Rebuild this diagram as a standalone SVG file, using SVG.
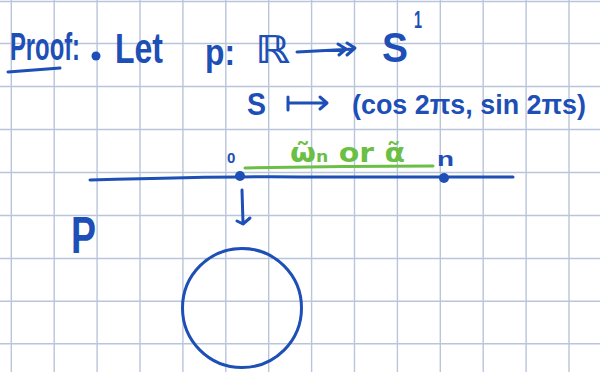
<svg xmlns="http://www.w3.org/2000/svg" width="600" height="372" viewBox="0 0 600 372">
<defs>
<style>
.grid line{stroke:#b8c5db;stroke-width:1.4}
.ink{fill:#1d4fb6;font-family:"Liberation Sans","DejaVu Sans",sans-serif;font-weight:bold}
.sym{fill:#1d4fb6;font-family:"DejaVu Sans",sans-serif;font-weight:bold}
.grn{fill:#6cbf45;font-family:"DejaVu Sans",sans-serif;font-weight:bold}
.stroke{stroke:#1d4fb6;stroke-width:3;fill:none;stroke-linecap:round;stroke-linejoin:round}
.gstroke{stroke:#6cbf45;stroke-width:3;fill:none;stroke-linecap:round}
.dot{fill:#1d4fb6}
</style>
</defs>
<rect width="600" height="372" fill="#ffffff"/>
<g class="grid">
<line x1="11.3" y1="0" x2="11.3" y2="372"/>
<line x1="54.2" y1="0" x2="54.2" y2="372"/>
<line x1="97.1" y1="0" x2="97.1" y2="372"/>
<line x1="140" y1="0" x2="140" y2="372"/>
<line x1="182.9" y1="0" x2="182.9" y2="372"/>
<line x1="225.8" y1="0" x2="225.8" y2="372"/>
<line x1="268.7" y1="0" x2="268.7" y2="372"/>
<line x1="311.6" y1="0" x2="311.6" y2="372"/>
<line x1="354.5" y1="0" x2="354.5" y2="372"/>
<line x1="397.4" y1="0" x2="397.4" y2="372"/>
<line x1="440.3" y1="0" x2="440.3" y2="372"/>
<line x1="483.2" y1="0" x2="483.2" y2="372"/>
<line x1="526.1" y1="0" x2="526.1" y2="372"/>
<line x1="569" y1="0" x2="569" y2="372"/>
<line x1="0" y1="1.5" x2="600" y2="1.5"/>
<line x1="0" y1="43.5" x2="600" y2="43.5"/>
<line x1="0" y1="86.5" x2="600" y2="86.5"/>
<line x1="0" y1="129.5" x2="600" y2="129.5"/>
<line x1="0" y1="172.5" x2="600" y2="172.5"/>
<line x1="0" y1="215.5" x2="600" y2="215.5"/>
<line x1="0" y1="258.5" x2="600" y2="258.5"/>
<line x1="0" y1="301.2" x2="600" y2="301.2"/>
<line x1="0" y1="343.8" x2="600" y2="343.8"/>
</g>
<g id="heading">
<text class="ink" x="10" y="60" font-size="38" textLength="70" lengthAdjust="spacingAndGlyphs">Proof:</text>
<path class="stroke" d="M8 72 L60 68"/>
<circle class="dot" cx="96" cy="56" r="4.5"/>
<text class="ink" x="115" y="63" font-size="42" textLength="48" lengthAdjust="spacingAndGlyphs">Let</text>
<text class="ink" x="205" y="65" font-size="36" textLength="30" lengthAdjust="spacingAndGlyphs">p:</text>
<text class="sym" x="255" y="63" font-size="38" textLength="35" lengthAdjust="spacingAndGlyphs">ℝ</text>
<path class="stroke" d="M297 52 L354 49 M338 44 L346 49 L339 55 M347 43 L355 48 L347 55"/>
<text class="ink" x="382" y="62" font-size="42" textLength="26" lengthAdjust="spacingAndGlyphs">S</text>
<text class="ink" x="414" y="28" font-size="24" textLength="8" lengthAdjust="spacingAndGlyphs">1</text>
</g>
<g id="map">
<text class="ink" x="247" y="115" font-size="32" textLength="19" lengthAdjust="spacingAndGlyphs">S</text>
<path class="stroke" d="M288 97 L288 110 M288 103 L326 103 M320 97 L327 103 L320 109"/>
<text class="ink" x="352" y="114" font-size="28" textLength="234" lengthAdjust="spacingAndGlyphs">(cos 2πs, sin 2πs)</text>
</g>
<g id="real-line">
<path class="gstroke" d="M245 168 Q340 166 433 166"/>
<text class="grn" x="290" y="162" font-size="26" textLength="115" lengthAdjust="spacingAndGlyphs">ω̃<tspan font-size="15">n</tspan> or α̃</text>
<path class="stroke" d="M90 180 Q240 176 300 177 L513 177"/>
<circle class="dot" cx="240" cy="176" r="5"/>
<circle class="dot" cx="444" cy="178" r="5"/>
<text class="ink" x="227" y="163" font-size="15">0</text>
<text class="ink" x="437" y="166" font-size="20" textLength="17" lengthAdjust="spacingAndGlyphs">n</text>
</g>
<g id="arrow-p">
<path class="stroke" d="M242 190 L243 223 M237 221 L243 224 L250 218"/>
<text class="ink" x="71" y="253" font-size="52" textLength="25" lengthAdjust="spacingAndGlyphs">P</text>
</g>
<g id="circle">
<circle cx="242" cy="308" r="59.5" class="stroke"/>
</g>
</svg>
